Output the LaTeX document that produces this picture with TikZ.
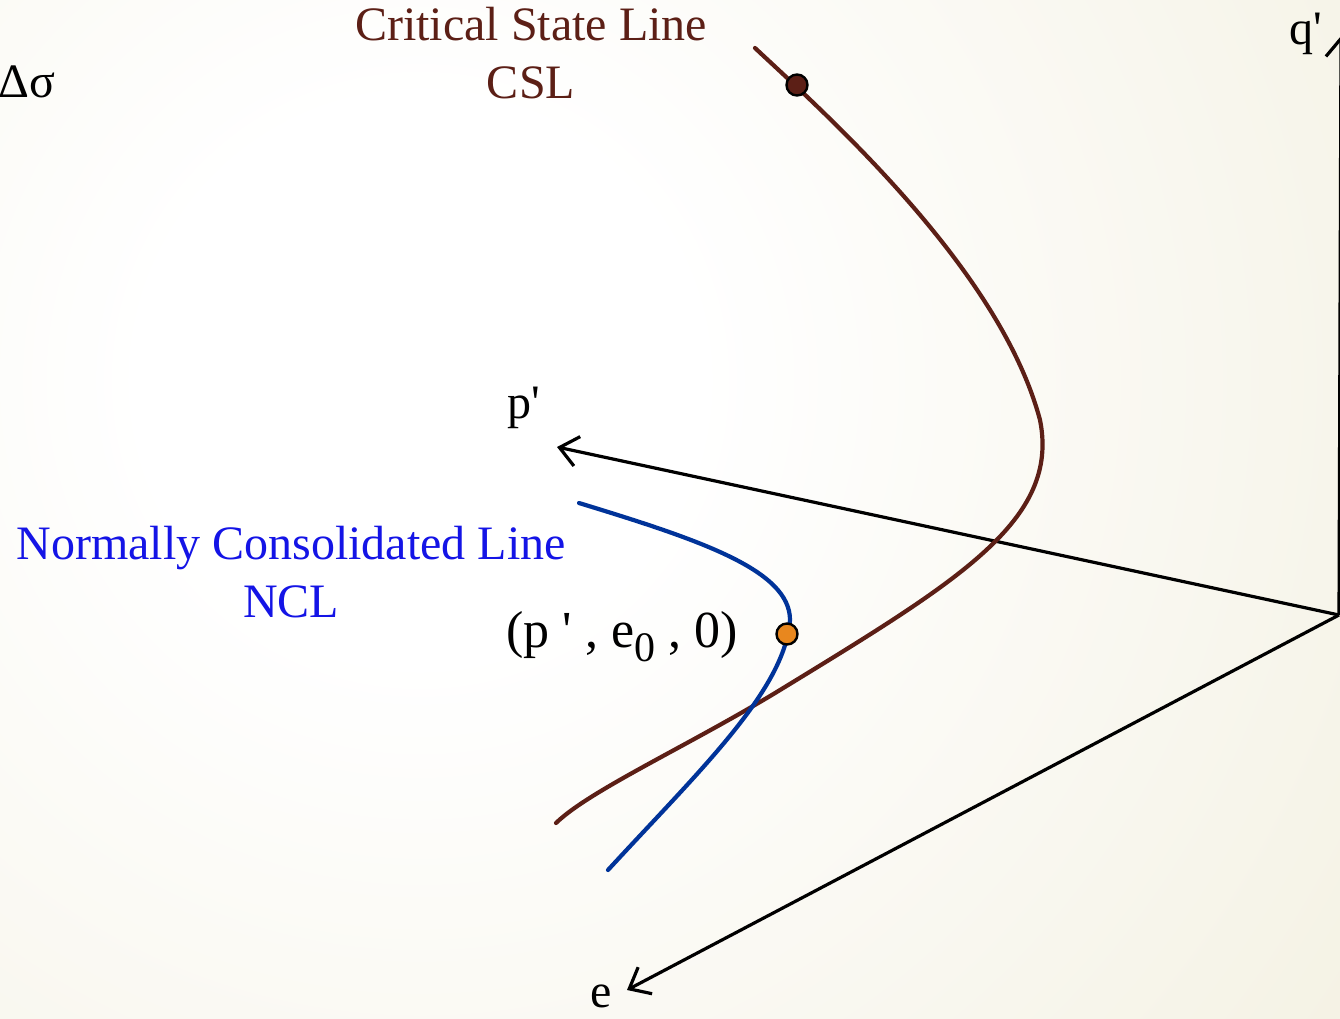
\documentclass[tikz,border=0pt]{standalone}
\usepackage{fontspec}
\newfontfamily\tf{Liberation Serif}
\usetikzlibrary{arrows.meta}
\definecolor{cslcol}{HTML}{5C1F16}
\definecolor{nclcol}{HTML}{003399}
\definecolor{ncltext}{HTML}{1414E6}
\definecolor{dotorange}{HTML}{E8871E}
\definecolor{bgedge}{HTML}{E6E0C0}
\pgfdeclareradialshading{bgshade}{\pgfpoint{0bp}{0bp}}{color(0bp)=(white); color(6bp)=(white); color(50bp)=(bgedge)}
\tikzset{
  lbl/.style={font=\tf\fontsize{48}{56}\selectfont, anchor=base, inner sep=0pt},
  axis/.style={draw=black, line width=3.2pt, -{Straight Barb[length=18pt,width=30pt,line width=3.2pt]}},
  curve/.style={line width=4.2pt, line cap=round},
  dot/.style={circle, draw=black, line width=2.4pt, minimum size=21pt, inner sep=0pt}
}
\begin{document}
\begin{tikzpicture}[x=1pt,y=-1pt]
\useasboundingbox (0,0) rectangle (1340,1018);
\begin{scope}
\clip (0,0) rectangle (1340,1018);
\shade[shading=bgshade] (420,380) circle (1150);
\end{scope}
% axes
\coordinate (O) at (1339,615);
\coordinate (pend) at (557,447);
\coordinate (eend) at (627,990);
\coordinate (qend) at (1341,36);
\draw[axis] (O) -- (pend);
\draw[axis] (O) -- (eend);
\draw[axis] (O) -- (qend);
% CSL curve
\draw[curve, draw=cslcol] (755,48) .. controls (830,118) and (1000,270) .. (1040,420)
  .. controls (1060,520) and (960,580) .. (780,690)
  .. controls (690,745) and (590,790) .. (556,823);
% NCL curve
\draw[curve, draw=nclcol] (579,503) .. controls (700,540) and (790,570) .. (790,620)
  .. controls (785,690) and (700,770) .. (608,870);
% dots
\node[dot, fill=cslcol] (cdot) at (797,85) {};
\node[dot, fill=dotorange] (odot) at (787,634) {};
% labels
\node[lbl, text=cslcol] (csl1) at (531,40) {Critical State Line};
\node[lbl, text=cslcol] (csl2) at (531,98) {CSL};
\node[lbl] (ds) at (27,97) {Δσ};
\node[lbl] (q) at (1306,44) {q'};
\node[lbl] (p) at (524,418) {p'};
\node[lbl, text=ncltext] (ncl1) at (291,559) {Normally Consolidated Line};
\node[lbl, text=ncltext] (ncl2) at (291,617) {NCL};
\node[lbl, font=\tf\fontsize{52}{60}\selectfont] (pt) at (622,647) {(p ' , e\raisebox{-14pt}{\fontsize{42}{42}\selectfont 0} , 0)};
\node[lbl] (e) at (601,1007) {e};
\end{tikzpicture}
\end{document}
